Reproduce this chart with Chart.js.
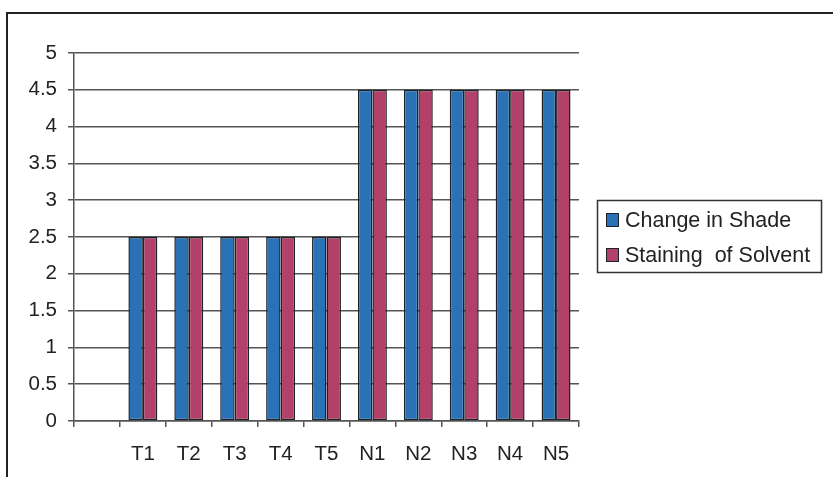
<!DOCTYPE html>
<html>
<head>
<meta charset="utf-8">
<script src="https://cdn.jsdelivr.net/npm/chart.js@4/dist/chart.umd.min.js"></script>
<style>
  html, body { margin: 0; padding: 0; background: #fff; overflow: hidden; }
  #frame { position: absolute; left: 6px; top: 12px; width: 900px; height: 600px;
           border-left: 2px solid #222; border-top: 2px solid #222; }
  #shadeChart { position: absolute; left: 0; top: 0; }
</style>
</head>
<body>
<div id="frame"></div>
<canvas id="shadeChart" width="833" height="477"></canvas>
<script>
// categories (first slot is left empty in the original)
const labels = ['', 'T1', 'T2', 'T3', 'T4', 'T5', 'N1', 'N2', 'N3', 'N4', 'N5'];
const changeInShade = [null, 2.5, 2.5, 2.5, 2.5, 2.5, 4.5, 4.5, 4.5, 4.5, 4.5];
const stainingOfSolvent = [null, 2.5, 2.5, 2.5, 2.5, 2.5, 4.5, 4.5, 4.5, 4.5, 4.5];
const yMin = 0;
const yMax = 5;
const yStep = 0.5;

const fontFamily = '"Liberation Sans", Arial, sans-serif';
const textColor = '#222';
const lineColor = '#555';

// legend drawn in a box, like the spreadsheet original
const boxedLegend = {
    id: 'boxedLegend',
    afterDraw(chart) {
        const ctx = chart.ctx;
        ctx.save();
        ctx.strokeStyle = '#333';
        ctx.lineWidth = 1.5;
        ctx.strokeRect(597.5, 200.5, 224, 72);
        ctx.font = '21.5px ' + fontFamily;
        ctx.textBaseline = 'alphabetic';
        chart.data.datasets.forEach((ds, i) => {
            const mid = 220 + i * 35;
            ctx.fillStyle = ds.backgroundColor;
            ctx.fillRect(606, mid - 7, 13, 14);
            ctx.strokeStyle = ds.borderColor;
            ctx.lineWidth = 1;
            ctx.strokeRect(606.5, mid - 6.5, 12, 13);
            ctx.fillStyle = textColor;
            ctx.fillText(ds.label, 625, mid + 7);
        });
        ctx.restore();
    }
};

const ctx = document.getElementById('shadeChart').getContext('2d');
const chart = new Chart(ctx, {
    type: 'bar',
    data: {
        labels: labels,
        datasets: [
            {
                label: 'Change in Shade',
                data: changeInShade,
                backgroundColor: '#2a72b5',
                borderColor: '#1c2228',
                borderWidth: 1.5,
                borderSkipped: false
            },
            {
                label: 'Staining  of Solvent',
                data: stainingOfSolvent,
                backgroundColor: '#b2416a',
                borderColor: '#1c2228',
                borderWidth: 1.5,
                borderSkipped: false
            }
        ]
    },
    options: {
        responsive: false,
        animation: false,
        layout: {
            padding: { left: 0, top: 53, right: 254, bottom: 0 }
        },
        datasets: {
            bar: { categoryPercentage: 0.63, barPercentage: 1.0 }
        },
        plugins: {
            legend: { display: false },
            tooltip: { enabled: false }
        },
        scales: {
            x: {
                afterFit: s => { s.height = 56; },
                grid: {
                    drawOnChartArea: false,
                    drawTicks: true,
                    tickLength: 6,
                    color: lineColor,
                    lineWidth: 1.5
                },
                border: { color: lineColor, width: 1.5 },
                ticks: {
                    padding: 15,
                    color: textColor,
                    font: { family: fontFamily, size: 20.5 },
                    maxRotation: 0,
                    autoSkip: false
                }
            },
            y: {
                min: yMin,
                max: yMax,
                afterFit: s => { s.width = 74; },
                grid: {
                    color: lineColor,
                    lineWidth: 1.5,
                    tickLength: 6
                },
                border: { color: lineColor, width: 1.5 },
                ticks: {
                    stepSize: yStep,
                    padding: 11,
                    color: textColor,
                    font: { family: fontFamily, size: 20.5 },
                    callback: v => String(v)
                }
            }
        }
    },
    plugins: [boxedLegend]
});
</script>
</body>
</html>
